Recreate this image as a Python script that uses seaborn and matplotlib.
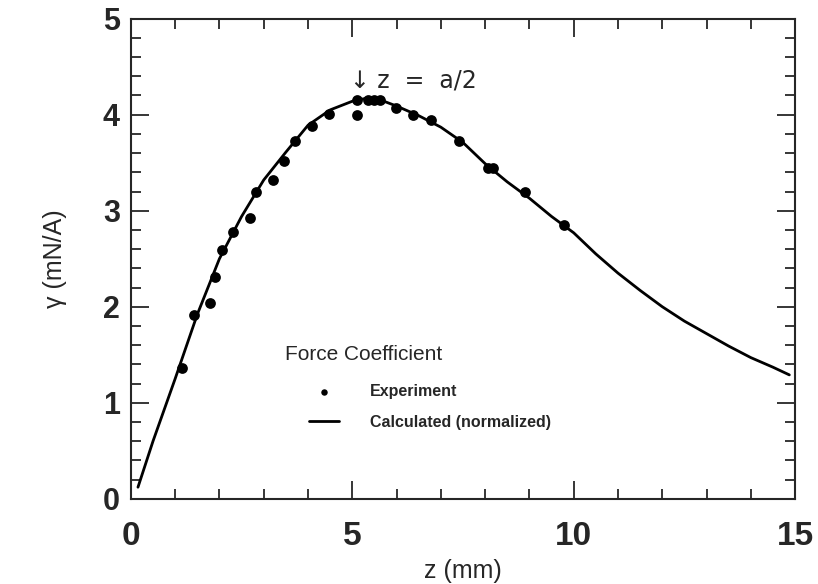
import numpy as np
import pandas as pd
import matplotlib
matplotlib.use("Agg")
import matplotlib.pyplot as plt
import seaborn as sns

# Donnees experimentales (points)
z_exp = [1.16, 1.42, 1.78, 1.91, 2.06, 2.30, 2.68, 2.82, 3.21, 3.45, 3.71, 4.10, 4.47,
         5.10, 5.10, 5.35, 5.50, 5.62, 5.99, 6.38, 6.77, 7.40, 8.06, 8.17, 8.90, 9.79]
gamma_exp = [1.36, 1.91, 2.04, 2.31, 2.59, 2.78, 2.92, 3.19, 3.32, 3.52, 3.73, 3.88, 4.01,
             4.00, 4.15, 4.15, 4.15, 4.15, 4.07, 4.00, 3.94, 3.73, 3.45, 3.45, 3.19, 2.85]

# Courbe calculee (normalisee)
z_calc = [0.16, 0.5, 1.0, 1.5, 2.0, 2.5, 3.0, 3.5, 4.0, 4.5, 5.0, 5.3, 5.6, 6.0, 6.5,
          7.0, 7.5, 8.0, 8.5, 9.0, 9.5, 10.0, 10.5, 11.0, 11.5, 12.0, 12.5, 13.0,
          13.5, 14.0, 14.5, 14.87]
gamma_calc = [0.12, 0.60, 1.25, 1.92, 2.50, 2.94, 3.32, 3.61, 3.89, 4.05, 4.14, 4.17,
              4.16, 4.09, 3.99, 3.87, 3.71, 3.49, 3.30, 3.13, 2.94, 2.77, 2.55, 2.35,
              2.17, 2.00, 1.85, 1.72, 1.59, 1.47, 1.37, 1.29]

exp_df = pd.DataFrame({"z": z_exp, "gamma": gamma_exp})
calc_df = pd.DataFrame({"z": z_calc, "gamma": gamma_calc})

sns.set_style("ticks")
plt.rcParams["font.family"] = ["Liberation Sans", "DejaVu Sans"]

fig = plt.figure(figsize=(8.18, 5.84), dpi=100)
ax = fig.add_axes([0.160, 0.146, 0.812, 0.822])

sns.scatterplot(data=exp_df, x="z", y="gamma", ax=ax, color="black", s=60,
                edgecolor="black", linewidth=0, label="Experiment", zorder=3)
sns.lineplot(data=calc_df, x="z", y="gamma", ax=ax, color="black", linewidth=2,
             label="Calculated (normalized)", sort=False, estimator=None)

ax.set_xlim(0, 15)
ax.set_ylim(0, 5)
ax.set_xticks([0, 5, 10, 15])
ax.set_yticks([0, 1, 2, 3, 4, 5])
ax.set_xticks(np.arange(0, 15.01, 1), minor=True)
ax.set_yticks(np.arange(0, 5.01, 0.2), minor=True)
ax.tick_params(which="both", direction="in", top=True, right=True, width=1.3)
ax.tick_params(which="major", length=13)
ax.tick_params(which="minor", length=7)
ax.tick_params(axis="x", which="major", labelsize=24, pad=16)
ax.tick_params(axis="y", which="major", labelsize=22, pad=8)
for lab in ax.get_xticklabels() + ax.get_yticklabels():
    lab.set_fontweight("bold")
for sp in ax.spines.values():
    sp.set_linewidth(1.5)

ax.set_xlabel("z (mm)", fontsize=18, labelpad=5)
ax.set_ylabel("γ (mN/A)", fontsize=18, labelpad=26)

ax.text(4.94, 4.36, "↓ z  =  a/2", fontsize=17, ha="left", va="center",
        family=["DejaVu Sans"])

ax.text(0.232, 0.301, "Force Coefficient", transform=ax.transAxes,
        fontsize=15, ha="left", va="center")
leg = ax.legend(loc="upper left", bbox_to_anchor=(0.268, 0.238), frameon=False,
                fontsize=11.5, handlelength=1.9, handletextpad=1.9,
                labelspacing=0.95, markerscale=0.6, borderpad=0, borderaxespad=0)
for t in leg.get_texts():
    t.set_fontweight("bold")

plt.savefig("out.png", dpi=100)
